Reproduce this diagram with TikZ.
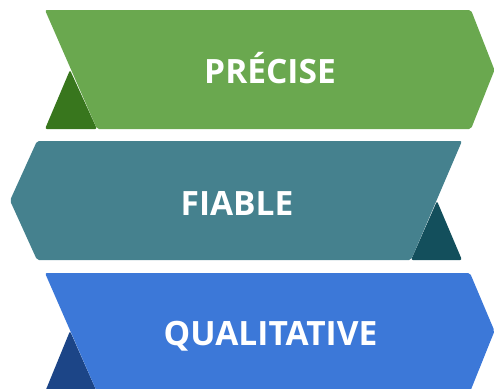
\documentclass[tikz,border=0pt]{standalone}
\usepackage{fontspec}
\setmainfont{Open Sans}
\definecolor{gmain}{HTML}{6AA84F}
\definecolor{gdark}{HTML}{38761D}
\definecolor{tmain}{HTML}{45818E}
\definecolor{tdark}{HTML}{134F5C}
\definecolor{bmain}{HTML}{3C78D8}
\definecolor{bdark}{HTML}{1C4587}
\begin{document}
\begin{tikzpicture}[x=1pt,y=-1pt,
  band/.style={rounded corners=2pt},
  label/.style={text=white,font=\bfseries\fontsize{33.5}{38}\selectfont,inner sep=0pt,anchor=base}]
\useasboundingbox (0,0) rectangle (494,388);
\clip (0,0) rectangle (494,388);
% band 1
\fill[gdark,band] (70,70) -- (97,129) -- (45,129) -- cycle;
\fill[gmain,band] (45,10) -- (471,10) -- (494.5,70) -- (471,129) -- (97,129) -- cycle;
\node[label] (precise) at (270,83) {PRÉCISE};
% band 2
\fill[tdark,band] (437,201) -- (462,260) -- (411,260) -- cycle;
\fill[tmain,band] (37,141) -- (462,141) -- (411,260) -- (37,260) -- (10,200.5) -- cycle;
\node[label] (fiable) at (237,215) {FIABLE};
% band 3
\fill[bdark,band] (70,331) -- (97,392) -- (45,392) -- cycle;
\fill[bmain,band] (45,273) -- (470,273) -- (494.5,331) -- (470,392) -- (97,392) -- cycle;
\node[label] (qual) at (270.5,345.5) {QUALITATIVE};
\end{tikzpicture}
\end{document}
